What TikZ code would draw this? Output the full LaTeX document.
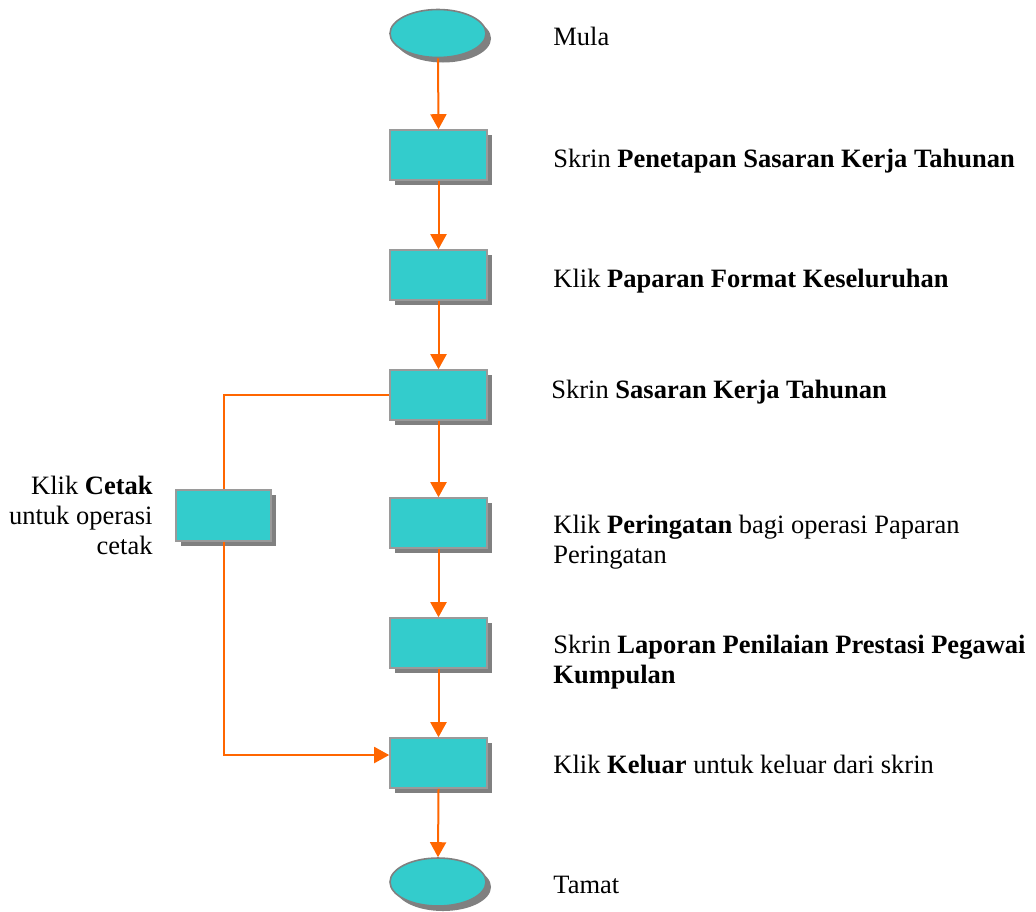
\documentclass[tikz,border=0pt]{standalone}
\usepackage{fontspec}
\setmainfont{Liberation Serif}
\usetikzlibrary{arrows.meta,shapes.geometric,shadows}
\definecolor{boxfill}{HTML}{33CCCC}
\definecolor{boxline}{HTML}{9A9A9A}
\definecolor{shadowgray}{HTML}{808080}
\definecolor{flow}{HTML}{FF6600}
\tikzset{
  stepbox/.style={rectangle,draw=boxline,line width=0.8pt,fill=boxfill,
    minimum width=48.5pt,minimum height=25pt,inner sep=0pt,
    drop shadow={shadow xshift=2.5pt,shadow yshift=-2.5pt,fill=shadowgray,opacity=1}},
  termbox/.style={ellipse,draw=shadowgray,line width=0.8pt,fill=boxfill,
    minimum width=48pt,minimum height=24pt,inner sep=0pt,
    drop shadow={shadow xshift=2.5pt,shadow yshift=-2.5pt,fill=shadowgray,opacity=1}},
  flowline/.style={draw=flow,line width=1pt},
  flowarrow/.style={flowline,-{Triangle[length=7.5pt,width=8pt]}},
  lbl/.style={inner sep=0pt,font=\fontsize{13.25}{15}\selectfont,anchor=base west,align=left},
}
\begin{document}
\begin{tikzpicture}[x=0.5pt,y=-0.5pt]
\useasboundingbox (0,0) rectangle (1036,911);
\node[termbox] (e1) at (438,33.5) {};
\node[stepbox] (b1) at (438.5,155) {};
\node[stepbox] (b2) at (438.5,275) {};
\node[stepbox] (b3) at (438.5,395) {};
\node[stepbox] (b4) at (438.5,523) {};
\node[stepbox] (b5) at (438.5,643) {};
\node[stepbox] (b6) at (438.5,763) {};
\node[termbox] (e2) at (438,882) {};
\node[stepbox,minimum width=47.5pt,minimum height=25.5pt] (bl) at (223.5,515.5) {};

\draw[flowarrow] (e1.south) -- (b1.north);
\draw[flowarrow] (b1.south) -- (b2.north);
\draw[flowarrow] (b2.south) -- (b3.north);
\draw[flowarrow] (b3.south) -- (b4.north);
\draw[flowarrow] (b4.south) -- (b5.north);
\draw[flowarrow] (b5.south) -- (b6.north);
\draw[flowarrow] (b6.south) -- (e2.north);
\draw[flowline] (b3.west) -| (bl.north);
\draw[flowarrow] (bl.south) |- ([yshift=4pt]b6.west);

\node[lbl] (t1) at (553,45) {Mula};
\node[lbl] (t2) at (553,167) {Skrin \textbf{Penetapan Sasaran Kerja Tahunan}};
\node[lbl] (t3) at (553,287) {Klik \textbf{Paparan Format Keseluruhan}};
\node[lbl] (t4) at (551,398) {Skrin \textbf{Sasaran Kerja Tahunan}};
\node[lbl] (t5) at (553,563) {Klik \textbf{Peringatan} bagi operasi Paparan\\Peringatan};
\node[lbl] (t6) at (553,683) {Skrin \textbf{Laporan Penilaian Prestasi Pegawai}\\\textbf{Kumpulan}};
\node[lbl] (t7) at (553,773) {Klik \textbf{Keluar} untuk keluar dari skrin};
\node[lbl] (t8) at (553,893) {Tamat};
\node[lbl,anchor=base east,align=right] (tl) at (153,554) {Klik \textbf{Cetak}\\untuk operasi\\cetak};
\end{tikzpicture}
\end{document}
